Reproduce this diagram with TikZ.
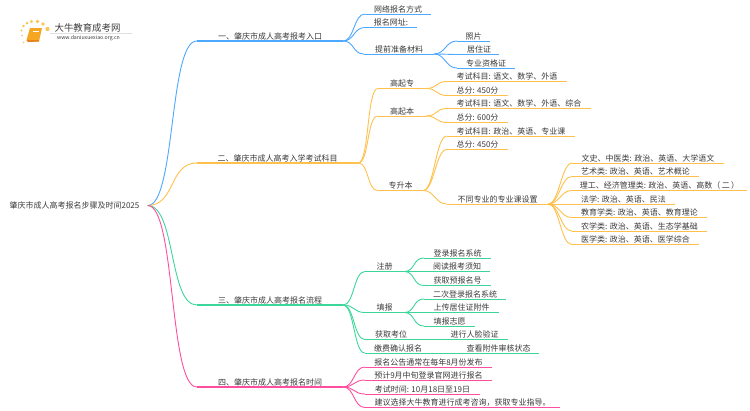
\documentclass[tikz,border=0pt]{standalone}
\usepackage{fontspec}
\usepackage{xcolor}
\setmainfont{Noto Sans CJK SC}
\definecolor{blueline}{HTML}{4DA8FF}
\definecolor{orangeline}{HTML}{FFC04D}
\definecolor{greenline}{HTML}{3DD69A}
\definecolor{pinkline}{HTML}{FF4DA0}
\definecolor{inktext}{HTML}{3A3A3A}
\definecolor{bookfill}{HTML}{F5A623}
\definecolor{bookdark}{HTML}{E8821E}
\definecolor{sundot}{HTML}{F9C555}
\newcommand{\itemnode}[5]{\node [branch,minimum width=#1pt] (#2) at (#3,#4) {#5};}
\begin{document}
\begin{tikzpicture}[x=1pt,y=-1pt]
\tikzstyle{every node}+=[inner sep=0pt,font=\fontsize{8pt}{10pt}\selectfont,text=inktext]
\tikzstyle{branch}=[anchor=south,minimum height=9pt]
\tikzstyle{thin}=[line width=0.9pt]
\useasboundingbox (0,0) rectangle (750,410);
\fill [sundot] (21.5,30.5) circle (1.2);
\fill [sundot] (23.5,26) circle (1.4);
\fill [sundot] (27,23) circle (1.5);
\fill [sundot] (31.5,21.5) circle (1.7);
\fill [sundot] (37.5,21.5) circle (1.9);
\fill [sundot] (43,24) circle (1.9);
\fill [sundot] (47.5,29) circle (2.1);
\fill [sundot] (22,35.5) circle (0.9);
\fill [sundot] (23.5,42.5) circle (0.8);
\fill [bookfill] (30,28) -- (42,28) -- (39,41.5) -- (28,42) -- (26.5,40) -- cycle;
\fill [bookdark] (26.5,40) -- (28,42) -- (38.5,41.5) -- (39,40) -- cycle;
\draw [white,line width=0.5pt] (33,31) -- (39,31);
\node (logotitle) at (87.5,27.5) {\fontsize{9.4pt}{11pt}\selectfont 大牛教育成考网};
\node (logourl) at (88.5,38.5) {\fontsize{5.2pt}{6pt}\selectfont www.daniuxuexiao.org.cn};
\fill [gray!25] (50,33) rectangle (132,33.4);
\node [minimum width=146pt] (root) at (74.5,205.5) {肇庆市成人高考报名步骤及时间2025};
\itemnode{146}{one}{270}{41}{一、肇庆市成人高考报考入口}
\itemnode{161}{two}{277.5}{163}{二、肇庆市成人高考入学考试科目}
\itemnode{146}{three}{270}{305}{三、肇庆市成人高考报名流程}
\itemnode{146}{four}{270}{387}{四、肇庆市成人高考报名时间}
\itemnode{66}{wayone}{398}{14}{网络报名方式}
\itemnode{52}{siteone}{391}{27.5}{报名网址:}
\itemnode{70}{prepone}{399}{54}{提前准备材料}
\itemnode{33}{photo}{473.5}{41}{照片}
\itemnode{40}{residence}{479}{54.5}{居住证}
\itemnode{58}{licence}{486}{68}{专业资格证}
\itemnode{48}{gqz}{402}{88.5}{高起专}
\itemnode{48}{gqb}{402}{116}{高起本}
\itemnode{45}{zsb}{400.5}{190.5}{专升本}
\itemnode{120}{gqzsub}{507}{81.5}{考试科目: 语文、数学、外语}
\itemnode{61}{gqzsum}{477.5}{95.5}{总分: 450分}
\itemnode{144}{gqbsub}{519}{108.5}{考试科目: 语文、数学、外语、综合}
\itemnode{61}{gqbsum}{477.5}{122.5}{总分: 600分}
\itemnode{128}{zsbsub}{511}{136}{考试科目: 政治、英语、专业课}
\itemnode{61}{zsbsum}{477.5}{149.5}{总分: 450分}
\itemnode{101}{zsbmajor}{497.5}{204}{不同专业的专业课设置}
\itemnode{151}{mwen}{648}{163}{文史、中医类: 政治、英语、大学语文}
\itemnode{127}{myi}{635.5}{176.5}{艺术类: 政治、英语、艺术概论}
\itemnode{175}{mli}{659.5}{190.5}{理工、经济管理类: 政治、英语、高数（\,二\,）}
\itemnode{103}{mfa}{623.5}{204}{法学: 政治、英语、民法}
\itemnode{135}{mjiao}{639.5}{217.5}{教育学类: 政治、英语、教育理论}
\itemnode{135}{mnong}{639.5}{231}{农学类: 政治、英语、生态学基础}
\itemnode{127}{mxue}{635.5}{244.5}{医学类: 政治、英语、医学综合}
\itemnode{39}{reg}{384.5}{271.5}{注册}
\itemnode{39}{fill}{384.5}{312.5}{填报}
\itemnode{52}{seat}{391}{339.5}{获取考位}
\itemnode{66}{faceid}{474.5}{339.5}{进行人脸验证}
\itemnode{66}{payconf}{398}{353}{缴费确认报名}
\itemnode{81}{attach}{498.5}{353}{查看附件审核状态}
\itemnode{67}{reglogin}{457.5}{258}{登录报名系统}
\itemnode{66}{regread}{457}{271.5}{阅读报考须知}
\itemnode{67}{regget}{457.5}{285.5}{获取预报名号}
\itemnode{82}{filllogin}{465}{299}{二次登录报名系统}
\itemnode{75}{fillup}{461.5}{312.5}{上传居住证附件}
\itemnode{51}{fillwish}{449.5}{326}{填报志愿}
\itemnode{127}{notice}{428.5}{367}{报名公告通常在每年8月份发布}
\itemnode{127}{signup}{428.5}{380}{预计9月中旬登录官网进行报名}
\itemnode{115}{examtime}{422.5}{394}{考试时间: 10月18日至19日}
\itemnode{195}{advice}{462.5}{407.5}{建议选择大牛教育进行成考咨询，获取专业指导。}
\draw [blueline,line width=1.3pt] (one.south west) -- (one.south east);
\draw [orangeline,line width=1.3pt] (two.south west) -- (two.south east);
\draw [greenline,line width=1.3pt] (three.south west) -- (three.south east);
\draw [pinkline,line width=1.3pt] (four.south west) -- (four.south east);
\draw [blueline,thin] (root.east) .. controls +(28,0) and +(-28,0) .. (one.south west);
\draw [orangeline,thin] (root.east) .. controls +(28,0) and +(-28,0) .. (two.south west);
\draw [greenline,thin] (root.east) .. controls +(28,0) and +(-28,0) .. (three.south west);
\draw [pinkline,thin] (root.east) .. controls +(28,0) and +(-28,0) .. (four.south west);
\draw [blueline,thin] (wayone.south west) -- (wayone.south east);
\draw [blueline,thin] (siteone.south west) -- (siteone.south east);
\draw [blueline,thin] (prepone.south west) -- (prepone.south east);
\draw [blueline,thin] (photo.south west) -- (photo.south east);
\draw [blueline,thin] (residence.south west) -- (residence.south east);
\draw [blueline,thin] (licence.south west) -- (licence.south east);
\draw [blueline,thin] (one.south east) .. controls +(11,0) and +(-11,0) .. (wayone.south west);
\draw [blueline,thin] (one.south east) .. controls +(11,0) and +(-11,0) .. (siteone.south west);
\draw [blueline,thin] (one.south east) .. controls +(11,0) and +(-11,0) .. (prepone.south west);
\draw [blueline,thin] (prepone.south east) .. controls +(11,0) and +(-11,0) .. (photo.south west);
\draw [blueline,thin] (prepone.south east) .. controls +(11,0) and +(-11,0) .. (residence.south west);
\draw [blueline,thin] (prepone.south east) .. controls +(11,0) and +(-11,0) .. (licence.south west);
\draw [orangeline,thin] (gqz.south west) -- (gqz.south east);
\draw [orangeline,thin] (gqb.south west) -- (gqb.south east);
\draw [orangeline,thin] (zsb.south west) -- (zsb.south east);
\draw [orangeline,thin] (gqzsub.south west) -- (gqzsub.south east);
\draw [orangeline,thin] (gqzsum.south west) -- (gqzsum.south east);
\draw [orangeline,thin] (gqbsub.south west) -- (gqbsub.south east);
\draw [orangeline,thin] (gqbsum.south west) -- (gqbsum.south east);
\draw [orangeline,thin] (zsbsub.south west) -- (zsbsub.south east);
\draw [orangeline,thin] (zsbsum.south west) -- (zsbsum.south east);
\draw [orangeline,thin] (zsbmajor.south west) -- (zsbmajor.south east);
\draw [orangeline,thin] (mwen.south west) -- (mwen.south east);
\draw [orangeline,thin] (myi.south west) -- (myi.south east);
\draw [orangeline,thin] (mli.south west) -- (mli.south east);
\draw [orangeline,thin] (mfa.south west) -- (mfa.south east);
\draw [orangeline,thin] (mjiao.south west) -- (mjiao.south east);
\draw [orangeline,thin] (mnong.south west) -- (mnong.south east);
\draw [orangeline,thin] (mxue.south west) -- (mxue.south east);
\draw [orangeline,thin] (two.south east) .. controls +(11,0) and +(-11,0) .. (gqz.south west);
\draw [orangeline,thin] (two.south east) .. controls +(11,0) and +(-11,0) .. (gqb.south west);
\draw [orangeline,thin] (two.south east) .. controls +(11,0) and +(-11,0) .. (zsb.south west);
\draw [orangeline,thin] (gqz.south east) .. controls +(11,0) and +(-11,0) .. (gqzsub.south west);
\draw [orangeline,thin] (gqz.south east) .. controls +(11,0) and +(-11,0) .. (gqzsum.south west);
\draw [orangeline,thin] (gqb.south east) .. controls +(11,0) and +(-11,0) .. (gqbsub.south west);
\draw [orangeline,thin] (gqb.south east) .. controls +(11,0) and +(-11,0) .. (gqbsum.south west);
\draw [orangeline,thin] (zsb.south east) .. controls +(11,0) and +(-11,0) .. (zsbsub.south west);
\draw [orangeline,thin] (zsb.south east) .. controls +(11,0) and +(-11,0) .. (zsbsum.south west);
\draw [orangeline,thin] (zsb.south east) .. controls +(11,0) and +(-11,0) .. (zsbmajor.south west);
\draw [orangeline,thin] (zsbmajor.south east) .. controls +(11,0) and +(-11,0) .. (mwen.south west);
\draw [orangeline,thin] (zsbmajor.south east) .. controls +(11,0) and +(-11,0) .. (myi.south west);
\draw [orangeline,thin] (zsbmajor.south east) .. controls +(11,0) and +(-11,0) .. (mli.south west);
\draw [orangeline,thin] (zsbmajor.south east) .. controls +(11,0) and +(-11,0) .. (mfa.south west);
\draw [orangeline,thin] (zsbmajor.south east) .. controls +(11,0) and +(-11,0) .. (mjiao.south west);
\draw [orangeline,thin] (zsbmajor.south east) .. controls +(11,0) and +(-11,0) .. (mnong.south west);
\draw [orangeline,thin] (zsbmajor.south east) .. controls +(11,0) and +(-11,0) .. (mxue.south west);
\draw [greenline,thin] (reg.south west) -- (reg.south east);
\draw [greenline,thin] (fill.south west) -- (fill.south east);
\draw [greenline,thin] (seat.south west) -- (seat.south east);
\draw [greenline,thin] (seat.south east) -- (faceid.south west);
\draw [greenline,thin] (faceid.south west) -- (faceid.south east);
\draw [greenline,thin] (payconf.south west) -- (payconf.south east);
\draw [greenline,thin] (payconf.south east) -- (attach.south west);
\draw [greenline,thin] (attach.south west) -- (attach.south east);
\draw [greenline,thin] (reglogin.south west) -- (reglogin.south east);
\draw [greenline,thin] (regread.south west) -- (regread.south east);
\draw [greenline,thin] (regget.south west) -- (regget.south east);
\draw [greenline,thin] (filllogin.south west) -- (filllogin.south east);
\draw [greenline,thin] (fillup.south west) -- (fillup.south east);
\draw [greenline,thin] (fillwish.south west) -- (fillwish.south east);
\draw [greenline,thin] (three.south east) .. controls +(11,0) and +(-11,0) .. (reg.south west);
\draw [greenline,thin] (three.south east) .. controls +(11,0) and +(-11,0) .. (fill.south west);
\draw [greenline,thin] (three.south east) .. controls +(11,0) and +(-11,0) .. (seat.south west);
\draw [greenline,thin] (three.south east) .. controls +(11,0) and +(-11,0) .. (payconf.south west);
\draw [greenline,thin] (reg.south east) .. controls +(11,0) and +(-11,0) .. (reglogin.south west);
\draw [greenline,thin] (reg.south east) .. controls +(11,0) and +(-11,0) .. (regread.south west);
\draw [greenline,thin] (reg.south east) .. controls +(11,0) and +(-11,0) .. (regget.south west);
\draw [greenline,thin] (fill.south east) .. controls +(11,0) and +(-11,0) .. (filllogin.south west);
\draw [greenline,thin] (fill.south east) .. controls +(11,0) and +(-11,0) .. (fillup.south west);
\draw [greenline,thin] (fill.south east) .. controls +(11,0) and +(-11,0) .. (fillwish.south west);
\draw [pinkline,thin] (notice.south west) -- (notice.south east);
\draw [pinkline,thin] (signup.south west) -- (signup.south east);
\draw [pinkline,thin] (examtime.south west) -- (examtime.south east);
\draw [pinkline,thin] (advice.south west) -- (advice.south east);
\draw [pinkline,thin] (four.south east) .. controls +(11,0) and +(-11,0) .. (notice.south west);
\draw [pinkline,thin] (four.south east) .. controls +(11,0) and +(-11,0) .. (signup.south west);
\draw [pinkline,thin] (four.south east) .. controls +(11,0) and +(-11,0) .. (examtime.south west);
\draw [pinkline,thin] (four.south east) .. controls +(11,0) and +(-11,0) .. (advice.south west);
\end{tikzpicture}
\end{document}
